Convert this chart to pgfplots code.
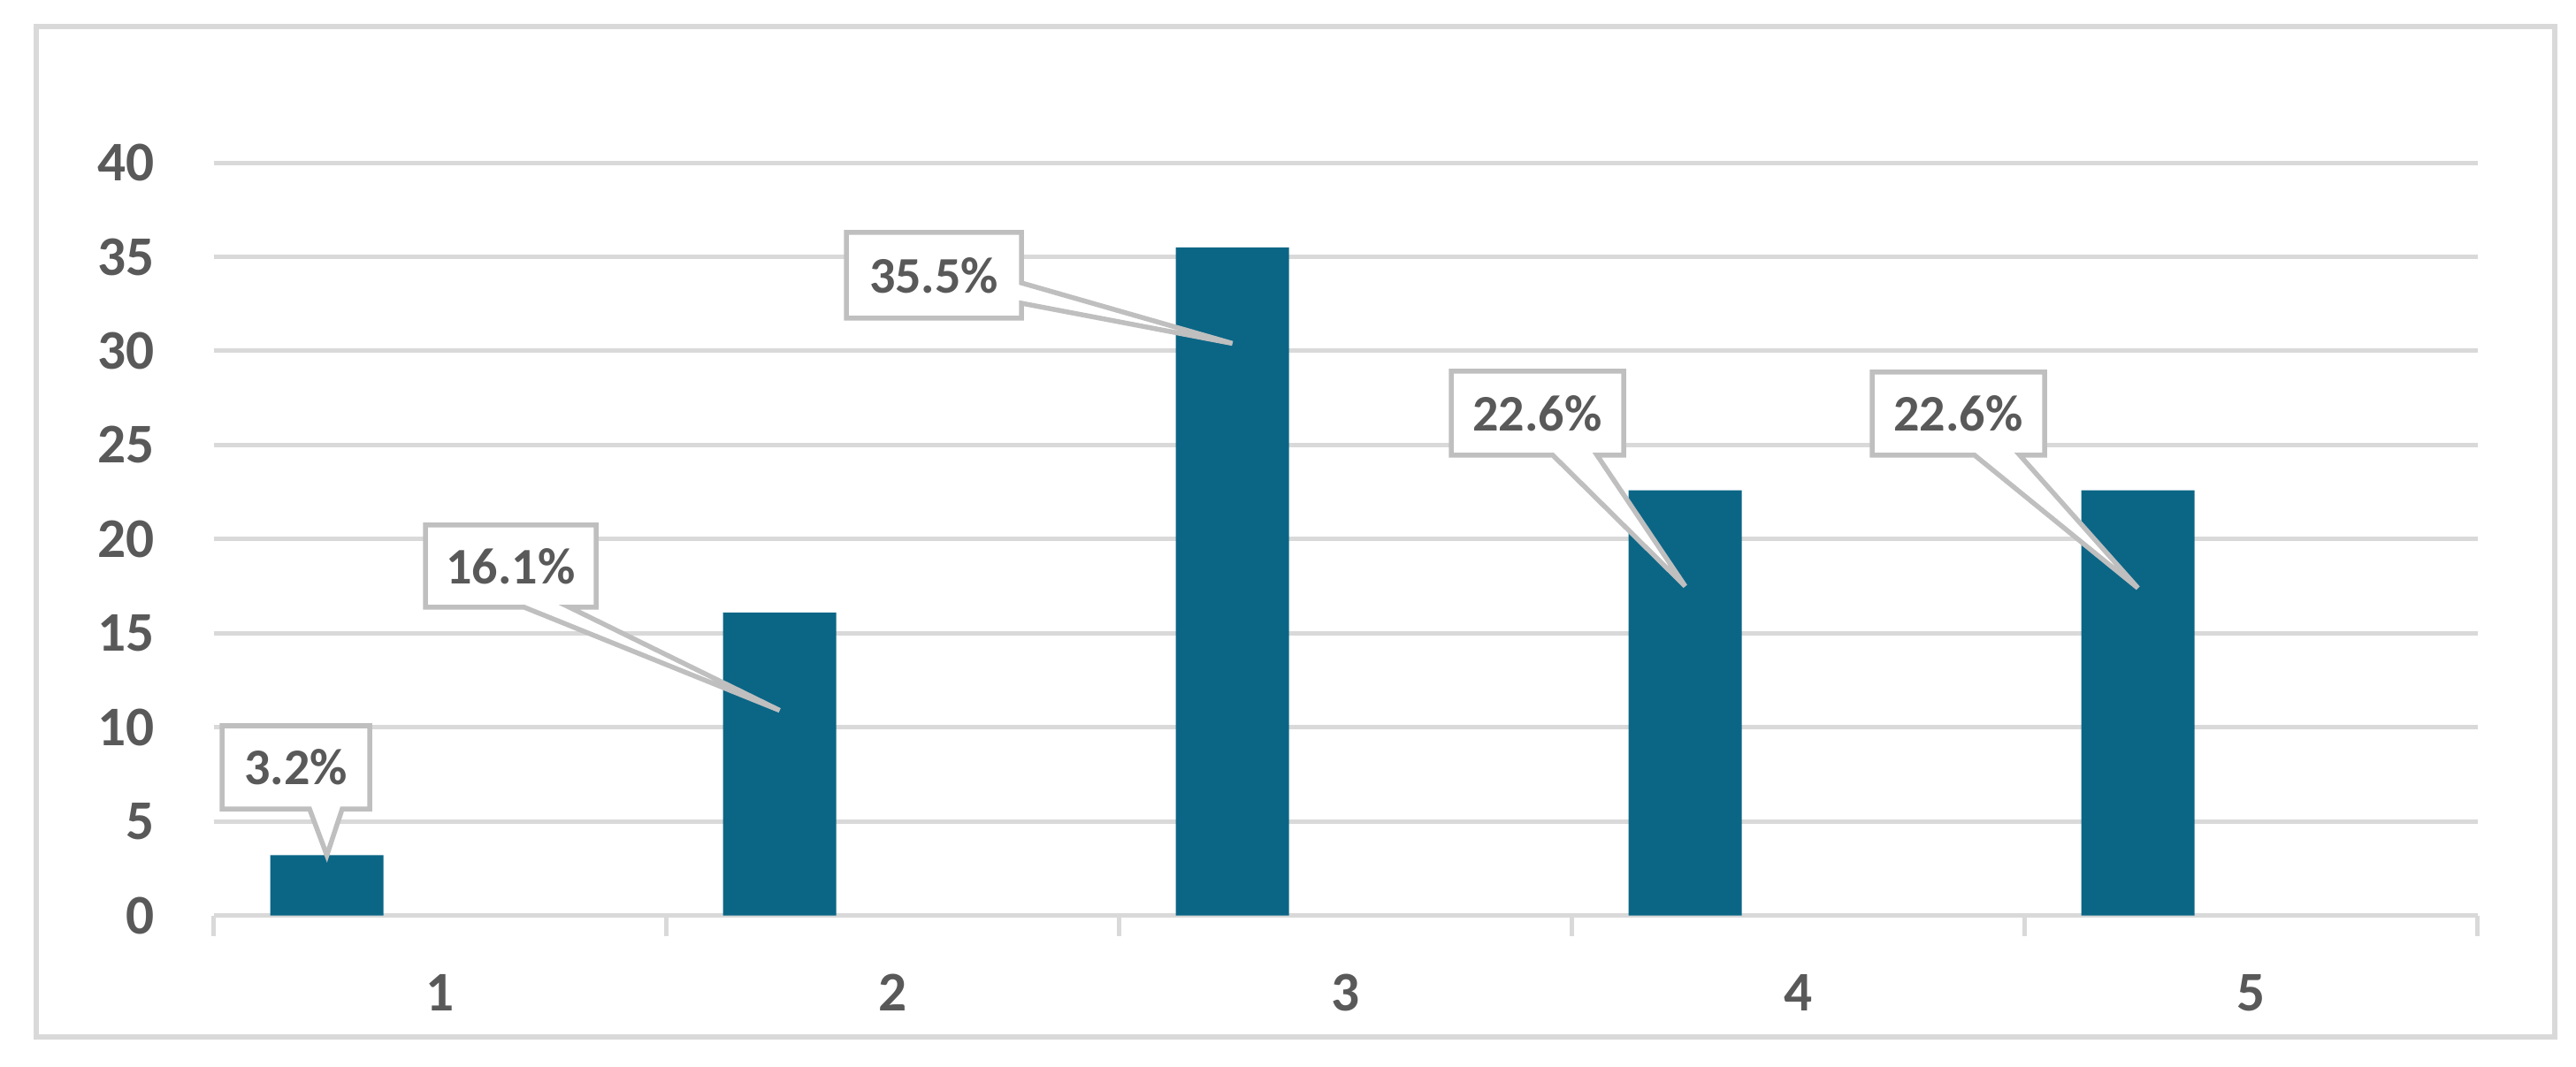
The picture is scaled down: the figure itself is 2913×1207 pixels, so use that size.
\documentclass[border=0pt]{standalone}
\usepackage{pgfplots}
\pgfplotsset{compat=1.18}
\usepackage{fontspec}
\setmainfont{Carlito}
\definecolor{barblue}{RGB}{11,102,134}
\definecolor{gridgray}{RGB}{217,217,217}
\definecolor{boxgray}{RGB}{191,191,191}
\definecolor{textgray}{RGB}{89,89,89}
\begin{document}
\begin{tikzpicture}
\begin{axis}[
  at={(2.415cm,-10.35cm)}, anchor=south west,
  scale only axis, width=25.585cm, height=8.51cm,
  xmin=0.5, xmax=5.5, ymin=0, ymax=40, enlargelimits=false, clip=false,
  axis line style={draw=none},
  xtick={1,2,3,4,5}, minor xtick={0.5,1.5,2.5,3.5,4.5,5.5},
  xtick pos=lower, tick align=outside,
  major tick length=0pt, minor tick length=0.23cm,
  minor x tick style={draw=gridgray, line width=0.05cm},
  ytick={0,5,...,40}, ytick style={draw=none},
  ymajorgrids, grid style={draw=gridgray, line width=0.05cm},
  /pgf/number format/assume math mode=true,
  ticklabel style={font=\bfseries\fontsize{18}{18}\selectfont, text=textgray, inner sep=0pt},
  yticklabel style={anchor=east, xshift=-0.665cm},
  xticklabel style={anchor=center, yshift=-0.875cm},
  ybar, bar width=0.25, bar shift=-0.25,
]
\addplot[fill=barblue, draw=none] coordinates {(1,3.2) (2,16.1) (3,35.5) (4,22.6) (5,22.6)};
\coordinate (t1) at (axis cs:0.75,3.2);
\coordinate (t2) at (axis cs:1.75,10.9);
\coordinate (t3) at (axis cs:2.75,30.4);
\coordinate (t4) at (axis cs:3.75,17.5);
\coordinate (t5) at (axis cs:4.75,17.4);
\end{axis}
\begin{scope}[x=0.01cm, y=-0.01cm]
  \draw[gridgray, line width=0.06cm] (41,30) rectangle (2889,1173);
  \tikzset{callout/.style={draw=boxgray, fill=white, line width=0.055cm, line join=miter},
           ctext/.style={text=textgray, font=\bfseries\fontsize{16.5}{16.5}\selectfont}}
  \draw[callout] (251,821) -- (418,821) -- (418,915) -- (387,915) -- (t1) -- (350,915) -- (251,915) -- cycle;
  \draw[callout] (481,594) -- (674,594) -- (674,687) -- (644,687) -- (t2) -- (593,687) -- (481,687) -- cycle;
  \draw[callout] (957,263) -- (1155,263) -- (1155,320) -- (t3) -- (1155,343) -- (1155,360) -- (957,360) -- cycle;
  \draw[callout] (1641,420) -- (1836,420) -- (1836,515) -- (1806,515) -- (t4) -- (1756,515) -- (1641,515) -- cycle;
  \draw[callout] (2117,421) -- (2312,421) -- (2312,515) -- (2284,515) -- (t5) -- (2233,515) -- (2117,515) -- cycle;
  \node[ctext] at (334.5,868) {3.2\%};
  \node[ctext] at (577.5,640.5) {16.1\%};
  \node[ctext] at (1056,311.5) {35.5\%};
  \node[ctext] at (1738.5,467.5) {22.6\%};
  \node[ctext] at (2214.5,468) {22.6\%};
  \pgfresetboundingbox
  \path[use as bounding box] (0,0) rectangle (2913,1207);
\end{scope}
\end{tikzpicture}
\end{document}
